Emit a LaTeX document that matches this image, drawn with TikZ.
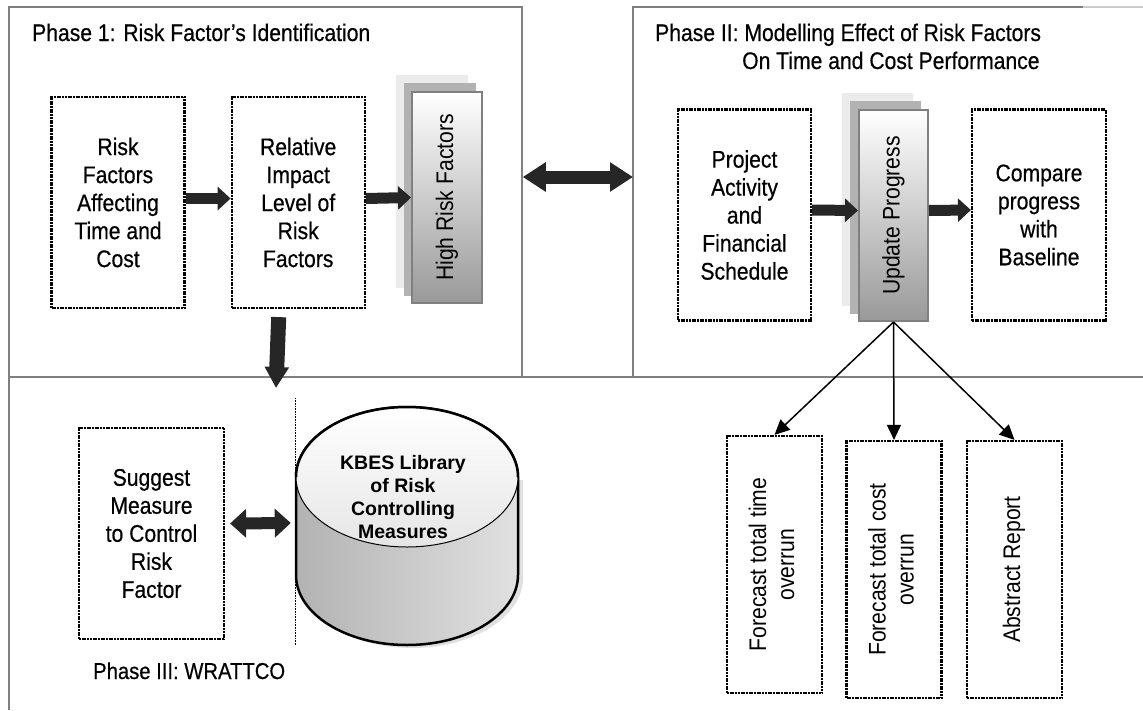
\documentclass[tikz,border=0pt]{standalone}
\usepackage{fontspec}
\setmainfont{Liberation Sans}[FakeStretch=0.88]
\newfontfamily\boxface{Liberation Sans}[FakeStretch=0.88,FakeBold=0.5]
\newfontfamily\kbesfont{Liberation Sans}
\usetikzlibrary{arrows.meta,positioning,calc,backgrounds}
\newcommand{\boxfont}{\boxface\fontsize{24}{28}\selectfont}
\newcommand{\sidefont}{\fontsize{24}{28}\selectfont}
\newcommand{\vtext}[1]{\rotatebox{90}{\begin{tabular}{@{}c@{}}#1\end{tabular}}}

\begin{document}
\begin{tikzpicture}[x=1pt, y=-1pt, >=Stealth,
  frame/.style={draw=black!50, line width=1.5pt},
  box/.style={draw, dash pattern=on 2pt off 0.7pt, line width=2.2pt, minimum width=133pt, minimum height=211pt, align=center, font=\boxfont},
  stackbox/.style={draw=black!50, line width=2pt, top color=white, bottom color=black!40, minimum width=70pt, minimum height=211pt, font=\sidefont, inner sep=0pt},
  fbox/.style={box, minimum width=95pt, minimum height=257pt, font=\sidefont},
  title/.style={font=\boxfont, inner sep=0pt, align=left},
  blk/.style={line width=11pt, black!85, -{Triangle[width=23pt,length=13pt]}},
  blkdown/.style={line width=15pt, black!85, -{Triangle[width=23pt,length=21pt]}},
  blkboth/.style={line width=13pt, black!85, {Triangle[width=28pt,length=23pt]}-{Triangle[width=28pt,length=23pt]}},
  blkpair/.style={line width=12pt, black!85, {Triangle[width=28pt,length=16pt]}-{Triangle[width=28pt,length=16pt]}},
  outarrow/.style={line width=1.5pt, -{Triangle[width=14pt,length=15pt]}},
  endarc/.style={x radius=111pt, y radius=70pt}
]
\useasboundingbox (0,0) rectangle (1143,710);

% Frames
\node[frame, minimum width=513pt, minimum height=370pt, inner sep=0pt] (ph1) at (265.5,192) {};
\draw[frame] (633,377) -- (633,7) -- (1083,7);
\draw[draw=black!20, line width=1.5pt] (1083,7) -- (1143,7);
\draw[frame] (9,377) -- (1143,377);
\draw[frame] (9,377) -- (9,710);
\coordinate (ph2w) at (633,177);

% Titles
\node[title, anchor=base west] (t1) at (32,41) {Phase 1: Risk Factor’s Identification};
\node[title, anchor=base west] (t2) at (655,69) {Phase II: Modelling Effect of Risk Factors\\\hspace*{87pt}On Time and Cost Performance};
\node[title, font=\boxface\fontsize{23}{28}\selectfont, anchor=base west] (t3) at (93,679) {Phase III: WRATTCO};

% Phase 1
\node[box] (risk) at (118,202.5) {Risk\\Factors\\Affecting\\Time and\\Cost};
\node[box, right=45pt of risk] (rel) {Relative\\Impact\\Level of\\Risk\\Factors};
\node[stackbox] (hrf) at (447,197.5) {\rotatebox{90}{High Risk Factors}};
\begin{scope}[on background layer]
  \fill[black!8] ($(hrf.south west)+(-15,-16)$) rectangle ($(hrf.north east)+(-15,-16)$);
  \fill[black!30] ($(hrf.south west)+(-7,-8)$) rectangle ($(hrf.north east)+(-7,-8)$);
\end{scope}

\draw[blk] ([yshift=4pt]risk.east) -- ([yshift=4pt]rel.west);
\draw[blk] ([yshift=4pt]rel.east) -- (hrf.west);
\coordinate (p3in) at (276,388);
\draw[blkdown] ($(rel.south)+(-19.5,8)$) -- (p3in);
\draw[blkboth] ([yshift=15pt]ph1.east) -- (ph2w);

% Phase II
\node[box] (proj) at (744.5,215) {Project\\Activity\\and\\Financial\\Schedule};
\node[stackbox, minimum width=69pt] (upd) at (893.5,215.5) {\rotatebox{90}{Update Progress}};
\begin{scope}[on background layer]
  \fill[black!8] ($(upd.south west)+(-16,-16)$) rectangle ($(upd.north east)+(-16,-16)$);
  \fill[black!30] ($(upd.south west)+(-8,-8)$) rectangle ($(upd.north east)+(-8,-8)$);
\end{scope}
\node[box, minimum width=134pt] (comp) at (1039,215) {Compare\\progress\\with\\Baseline};

\draw[blk] ([yshift=5pt]proj.east) -- ([yshift=5pt]upd.west);
\draw[blk] ([yshift=5pt]upd.east) -- ([yshift=5pt]comp.west);

% Outputs
\node[fbox] (fct) at (774.5,564.5) {\vtext{Forecast total time\\overrun}};
\node[fbox] (fcc) at (894,569.5) {\vtext{Forecast total cost\\overrun}};
\node[fbox] (abst) at (1014.5,569.5) {\vtext{Abstract Report}};
\foreach \o in {fct,fcc,abst}
  \draw[outarrow] (upd.south) -- (\o.north);

% Phase III
\draw[densely dotted, line width=0.6pt] (295,398) -- (295,645);
\node[box, minimum width=145pt] (sugg) at (151.5,533.5) {Suggest\\Measure\\to Control\\Risk\\Factor};
% library drum
\fill[black!12] (301,480) -- (301,578) arc[start angle=180, end angle=360, endarc] -- (523,480) -- cycle;
\shade[left color=black!30, right color=black!12, draw=black, line width=2.5pt]
  (296,477) -- (296,575) arc[start angle=180, end angle=360, endarc]
  -- (518,477) arc[start angle=0, end angle=180, endarc] -- cycle;
\shade[top color=white, bottom color=black!10, draw=black, line width=1pt] (407,477) ellipse[endarc];
\draw[line width=2.5pt] (518,477) arc[start angle=0, end angle=180, endarc];
\node[minimum width=222pt, minimum height=238pt, inner sep=0pt] (kbes) at (407,526) {};
\node[font=\kbesfont\bfseries\fontsize{19.5}{23}\selectfont, align=center] (kbestxt) at (403,497) {KBES Library\\of Risk\\Controlling\\Measures};
\draw[blkpair] ([xshift=5pt,yshift=10pt]sugg.east) -- ([xshift=-5pt,yshift=3pt]kbes.west);
\end{tikzpicture}
\end{document}
